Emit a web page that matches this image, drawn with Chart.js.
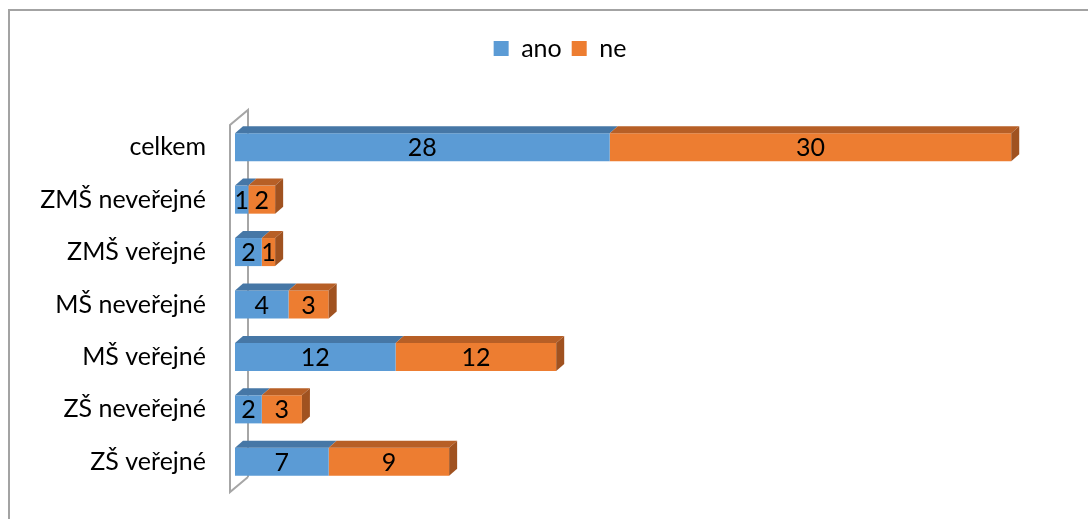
<!DOCTYPE html>
<html>
<head>
<meta charset="utf-8">
<script src="https://cdn.jsdelivr.net/npm/chart.js@4/dist/chart.umd.min.js"></script>
<style>
  html, body { margin: 0; padding: 0; background: #fff; }
  #wrap { position: relative; width: 1088px; height: 519px; }
</style>
</head>
<body>
<div id="wrap"><canvas id="chart"></canvas></div>
<script>
// categories top to bottom, as in the picture
const categories = ["celkem", "ZMŠ neveřejné", "ZMŠ veřejné", "MŠ neveřejné", "MŠ veřejné", "ZŠ neveřejné", "ZŠ veřejné"];
const anoValues = [28, 1, 2, 4, 12, 2, 7];
const neValues = [30, 2, 1, 3, 12, 3, 9];
const seriesNames = ["ano", "ne"];

const FONT = "Lato";
const FONT_SIZE = 25;
const DEPTH_X = 8, DEPTH_Y = 7;

// frame of the chart (only top and left edge are visible)
const framePlugin = {
    id: "frame",
    beforeDraw(chart) {
        const c = chart.ctx;
        c.save();
        c.strokeStyle = "#a3a3a3";
        c.lineWidth = 2;
        c.beginPath();
        c.moveTo(9, 600);
        c.lineTo(9, 10);
        c.lineTo(1200, 10);
        c.stroke();
        c.restore();
    }
};

// extra room between legend and plot, legend nudged right
const legendTweakPlugin = {
    id: "legendTweak",
    beforeInit(chart) {
        const legend = chart.legend;
        const fit = legend.fit;
        legend.fit = function() {
            fit.call(this);
            this.height += 50;
        };
        const draw = legend.draw;
        legend.draw = function() {
            this.left += 41; this.right += 41;
            draw.call(this);
            this.left -= 41; this.right -= 41;
        };
    }
};

// the 3D back wall behind the category axis
const wallPlugin = {
    id: "wall",
    beforeDatasetsDraw(chart) {
        const a = chart.chartArea;
        const c = chart.ctx;
        const fx = a.left - 5, bx = a.left + 13;
        c.save();
        c.strokeStyle = "#a6a6a6";
        c.lineWidth = 2;
        c.beginPath();
        c.moveTo(bx, a.bottom - 11);
        c.lineTo(bx, a.top - 11);
        c.lineTo(fx, a.top + 4);
        c.lineTo(fx, a.bottom + 4);
        c.lineTo(bx, a.bottom - 11);
        c.stroke();
        c.restore();
    }
};

// top and side faces of the bars, plus value labels
const bars3dPlugin = {
    id: "bars3d",
    afterDatasetsDraw(chart) {
        const c = chart.ctx;
        const last = chart.data.datasets.length - 1;
        c.save();
        chart.data.datasets.forEach((ds, di) => {
            const meta = chart.getDatasetMeta(di);
            meta.data.forEach((bar, i) => {
                const p = bar.getProps(["x", "y", "base", "height"], true);
                const top = p.y - p.height / 2, bottom = p.y + p.height / 2;
                c.fillStyle = ds.topColor;
                c.beginPath();
                c.moveTo(p.base, top);
                c.lineTo(p.base + DEPTH_X, top - DEPTH_Y);
                c.lineTo(p.x + DEPTH_X, top - DEPTH_Y);
                c.lineTo(p.x, top);
                c.closePath();
                c.fill();
                if (di === last) {
                    c.fillStyle = ds.sideColor;
                    c.beginPath();
                    c.moveTo(p.x, top);
                    c.lineTo(p.x + DEPTH_X, top - DEPTH_Y);
                    c.lineTo(p.x + DEPTH_X, bottom - DEPTH_Y);
                    c.lineTo(p.x, bottom);
                    c.closePath();
                    c.fill();
                }
            });
        });
        c.fillStyle = "#000";
        c.font = FONT_SIZE + "px " + FONT;
        c.textAlign = "center";
        c.textBaseline = "middle";
        chart.data.datasets.forEach((ds, di) => {
            const meta = chart.getDatasetMeta(di);
            meta.data.forEach((bar, i) => {
                const p = bar.getProps(["x", "y", "base"], true);
                c.fillText(String(ds.data[i]), (p.x + p.base) / 2, p.y + 1);
            });
        });
        c.restore();
    }
};

new Chart(document.getElementById("chart"), {
    type: "bar",
    data: {
        labels: categories,
        datasets: [{
            label: seriesNames[0],
            data: anoValues,
            backgroundColor: "#5b9bd5",
            topColor: "#4677a6",
            borderWidth: 0
        }, {
            label: seriesNames[1],
            data: neValues,
            backgroundColor: "#ed7d31",
            topColor: "#b75f26",
            sideColor: "#a05220",
            borderWidth: 0
        }]
    },
    options: {
        indexAxis: "y",
        responsive: true,
        maintainAspectRatio: false,
        animation: false,
        categoryPercentage: 0.535,
        barPercentage: 1,
        layout: { padding: { top: 26, right: 50, bottom: 31, left: 0 } },
        scales: {
            x: { stacked: true, min: 0, max: 60, display: false },
            y: {
                stacked: true,
                grid: { display: false },
                border: { display: false },
                ticks: { color: "#000", padding: 21, font: { family: FONT, size: FONT_SIZE } },
                afterFit(scale) {
                    scale.width = 235;
                    scale.paddingTop = 0;
                    scale.paddingBottom = 0;
                }
            }
        },
        plugins: {
            legend: {
                position: "top",
                labels: {
                    color: "#000",
                    boxWidth: 15,
                    boxHeight: 15,
                    padding: 10,
                    font: { family: FONT, size: FONT_SIZE }
                }
            },
            tooltip: { enabled: false }
        }
    },
    plugins: [framePlugin, legendTweakPlugin, wallPlugin, bars3dPlugin]
});
</script>
</body>
</html>
